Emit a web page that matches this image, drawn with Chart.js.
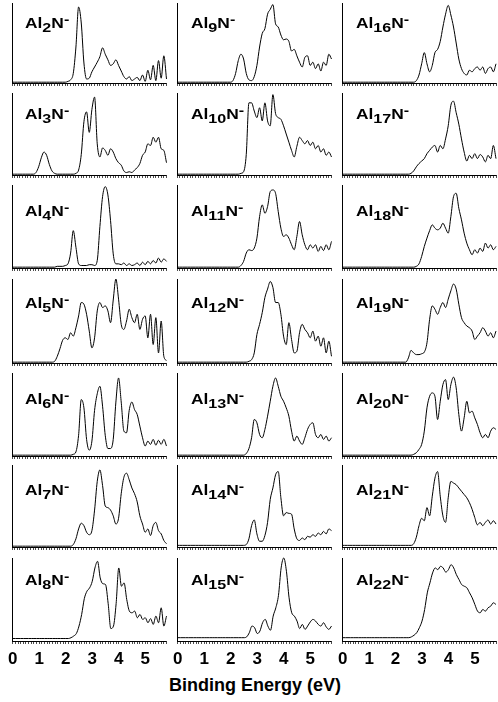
<!DOCTYPE html>
<html><head><meta charset="utf-8">
<script src="https://cdn.jsdelivr.net/npm/chart.js@4.4.1/dist/chart.umd.min.js"></script>
<style>
html,body{margin:0;padding:0;background:#fff}
body{width:498px;height:702px;position:relative;overflow:hidden;font-family:"Liberation Sans",Arial,sans-serif}
.p{position:absolute}
.lab{position:absolute;font-family:"Liberation Sans",Arial,sans-serif;font-weight:bold;font-size:14px;line-height:14px;white-space:nowrap;color:#000;transform-origin:0 100%;transform:scaleX(1.24)}
.lab .s{position:relative;top:4px;font-size:13px}
.lab .m{position:relative;top:-4px;font-size:13px}
#xtitle{position:absolute;left:130px;width:250px;top:676px;text-align:center;font-weight:bold;font-size:18px;line-height:18px;color:#000;font-family:"Liberation Sans",Arial,sans-serif}
</style></head><body>
<div id="xtitle">Binding Energy (eV)</div>
<script>
// Binding energy grid (eV)
const energies = [0,0.1,0.2,0.3,0.4,0.5,0.6,0.7,0.8,0.9,
  1.0,1.1,1.2,1.3,1.4,1.5,1.6,1.7,1.8,1.9,
  2.0,2.1,2.2,2.3,2.4,2.5,2.6,2.7,2.8,2.9,
  3.0,3.1,3.2,3.3,3.4,3.5,3.6,3.7,3.8,3.9,
  4.0,4.1,4.2,4.3,4.4,4.5,4.6,4.7,4.8,4.9,
  5.0,5.1,5.2,5.3,5.4,5.5,5.6,5.7,5.8];
const tickLabels = ['0','1','2','3','4','5'];
const clusterSizes = [2,3,4,5,6,7,8,9,10,11,12,13,14,15,16,17,18,19,20,21,22];

// Photoelectron intensity (relative) per cluster
const al2n = [1,1,1,1,1,1,1,1,1,1, 1,1,1,1,1,1,1,1,1,1,
  1,2,4,12,45,95,75,25,5,6, 14,20,26,33,44,36,29,22,24,29,
  22,15,8,5,8,3,5,7,3,10, 2,16,4,22,3,28,6,34,5];
const al3n = [1,1,1,1,1,1,1,1,1,3, 10,21,28,24,13,5,2,1,1,1,
  1,1,1,1,2,6,25,65,77,52, 80,95,38,22,33,30,24,32,28,20,
  15,12,5,3,4,3,6,9,14,24, 28,38,36,46,40,46,32,30,15];
const al4n = [1,1,1,1,1,1,1,1,1,1, 1,1,1,1,1,1,1,2,2,2,
  3,5,18,45,25,5,3,3,3,4, 4,3,9,50,86,98,88,57,17,5,
  5,4,6,3,5,3,4,6,3,7, 4,8,5,9,6,12,7,11,8];
const al5n = [1,1,1,1,1,1,1,1,1,1, 1,1,1,1,1,1,2,8,17,27,
  30,28,36,32,42,56,72,70,58,38, 18,30,62,72,66,68,62,48,75,100,
  76,46,40,50,64,54,48,58,40,52, 56,30,58,22,54,12,50,8,3];
const al6n = [1,1,1,1,1,1,1,1,1,1, 1,1,1,1,1,1,1,1,1,1,
  1,1,1,2,5,25,68,58,20,7, 18,55,75,84,60,25,9,9,20,65,
  94,65,30,28,55,65,56,50,36,22, 12,18,14,20,13,19,14,20,12];
const al7n = [1,1,1,1,1,1,1,1,1,1, 1,1,1,1,1,1,1,1,1,1,
  1,1,1,3,10,22,29,26,18,15, 20,45,80,94,75,50,48,45,38,28,
  35,65,85,90,82,72,65,55,38,28, 18,22,14,26,30,20,16,8,4];
const al8n = [3,3,3,3,3,3,3,3,3,3, 3,3,3,3,3,3,3,3,3,3,
  3,3,4,6,9,18,32,51,60,64, 72,88,96,76,69,68,45,15,18,45,
  88,66,70,50,36,34,36,28,32,26, 28,22,27,20,30,22,40,18,30];
const al9n = [1,1,1,1,1,1,1,1,1,1, 1,1,1,1,1,1,1,1,1,1,
  1,3,12,28,36,30,12,4,3,8, 22,45,62,68,86,92,98,74,70,60,
  54,55,52,40,42,34,26,20,32,34, 22,26,18,24,15,26,22,36,30];
const al10n = [1,1,1,1,1,1,1,1,1,1, 1,1,1,1,1,1,1,1,1,1,
  1,1,1,1,2,4,25,88,88,78, 70,82,66,88,66,60,98,75,70,68,
  60,50,40,30,22,35,46,42,38,42, 36,40,32,36,28,32,24,28,22];
const al11n = [1,1,1,1,1,1,1,1,1,1, 1,1,1,1,1,1,1,1,1,1,
  1,1,1,1,3,8,18,22,21,24, 36,62,76,66,74,92,94,90,68,48,
  38,40,36,28,22,38,56,40,28,22, 28,24,28,20,26,21,28,22,32];
const al12n = [1,1,1,1,1,1,1,1,1,1, 1,1,1,1,1,1,1,1,1,1,
  1,1,1,1,1,1,1,2,4,12, 34,46,60,78,88,97,90,72,72,58,
  32,22,48,28,12,14,36,46,40,36, 30,38,26,32,20,30,12,26,8];
const al13n = [1,1,1,1,1,1,1,1,1,1, 1,1,1,1,1,1,1,1,1,1,
  1,1,1,1,1,1,3,9,22,44, 40,26,22,32,48,66,84,94,84,72,
  66,58,48,30,18,24,18,14,22,32, 38,40,26,22,26,20,24,18,22];
const al14n = [2,2,2,2,2,2,2,2,2,2, 2,2,2,2,2,2,2,2,2,2,
  2,2,2,2,2,2,3,10,26,33, 16,7,7,14,30,58,72,88,92,60,
  38,42,41,40,22,10,8,11,9,13, 12,15,13,17,15,19,16,22,20];
const al15n = [4,4,4,4,4,4,4,4,4,4, 4,4,4,4,4,4,4,4,4,4,
  4,4,4,4,4,4,5,10,18,16, 9,12,22,26,18,13,30,40,55,88,
  100,84,52,34,30,24,15,20,14,18, 23,26,24,20,18,22,17,14,18];
const al16n = [1,1,1,1,1,1,1,1,1,1, 1,1,1,1,1,1,1,1,1,1,
  1,1,1,1,1,1,1,1,3,10, 24,38,24,14,22,38,42,52,70,86,
  97,85,70,50,30,18,12,10,16,14, 18,20,16,20,12,18,20,14,24];
const al17n = [1,1,1,1,1,1,1,1,1,1, 1,1,1,1,1,1,1,1,1,1,
  1,1,1,1,1,1,2,5,10,14, 17,20,26,30,34,36,28,36,32,44,
  60,85,90,76,62,44,28,17,24,20, 26,20,25,22,16,24,20,36,20];
const al18n = [1,1,1,1,1,1,1,1,1,1, 1,1,1,1,1,1,1,1,1,1,
  1,1,1,1,1,1,1,1,2,5, 14,26,36,45,52,48,46,48,54,48,
  42,62,86,90,72,58,42,30,22,16, 22,18,24,20,30,24,28,22,26];
const al19n = [1,1,1,1,1,1,1,1,1,1, 1,1,1,1,1,1,1,1,1,1,
  1,1,1,1,1,6,15,12,10,10, 11,13,24,52,68,64,58,66,72,66,
  76,86,94,88,70,54,48,44,42,38, 28,32,36,42,38,32,36,30,38];
const al20n = [1,1,1,1,1,1,1,1,1,1, 1,1,1,1,1,1,1,1,1,1,
  1,1,1,1,1,1,1,2,4,8, 14,30,58,72,76,72,44,66,86,92,
  68,86,95,82,50,30,46,66,52,54, 46,38,28,22,26,22,30,34,32];
const al21n = [2,2,2,2,2,2,2,2,2,2, 2,2,2,2,2,2,2,2,2,2,
  2,2,2,2,2,2,2,4,12,26, 35,32,48,38,62,84,92,62,38,30,
  60,80,78,76,72,68,64,60,54,46, 36,27,30,26,30,33,28,32,28];
const al22n = [4,4,4,4,4,4,4,4,4,4, 4,4,4,4,4,4,4,4,4,4,
  4,4,4,4,4,4,5,7,10,16, 24,38,58,70,82,88,86,90,88,83,
  86,92,88,80,74,68,66,64,58,52, 44,36,34,38,36,40,42,46,44];

const spectra = [al2n,al3n,al4n,al5n,al6n,al7n,al8n,al9n,al10n,al11n,al12n,al13n,al14n,al15n,
  al16n,al17n,al18n,al19n,al20n,al21n,al22n];

// layout (pixels)
const colLeft = [11.5, 176.5, 342];
const colWidth = [156.5, 156.5, 156];
const rowTop = [3, 93, 185, 279, 373, 465, 558];
const rowBottom = [83, 175, 268, 363, 456, 547, 641];
const labelX = [25, 191, 356];
const labelBase = [27, 118, 215, 307, 403, 494, 584];

const FONT = '"Liberation Sans", Arial, sans-serif';

spectra.forEach((vals, idx) => {
  const col = Math.floor(idx / 7), row = idx % 7;
  const L = colLeft[col], T = rowTop[row], W = colWidth[col], H = rowBottom[row] - rowTop[row];
  const bottomRow = row === 6;
  const xh = bottomRow ? 32 : 5;
  const padL = 9, padT = 3, padR = 3;
  const div = document.createElement('div');
  div.className = 'p';
  div.style.left = (L - padL) + 'px';
  div.style.top = (T - padT) + 'px';
  div.style.width = (W + padL + padR) + 'px';
  div.style.height = (H + padT + xh) + 'px';
  const cv = document.createElement('canvas');
  div.appendChild(cv);
  document.body.appendChild(div);

  new Chart(cv, {
    type: 'line',
    data: { datasets: [{
      data: energies.map((e, i) => ({ x: e, y: vals[i] })),
      borderColor: '#000', borderWidth: 1, pointRadius: 0,
      cubicInterpolationMode: 'monotone', fill: false, clip: 4
    }] },
    options: {
      responsive: true, maintainAspectRatio: false, animation: false, events: [],
      layout: { padding: { left: padL, top: padT, right: padR, bottom: 0 } },
      plugins: { legend: { display: false }, tooltip: { enabled: false } },
      scales: {
        x: {
          type: 'linear', min: 0, max: 5.8,
          afterFit: s => { s.height = xh; },
          grid: { drawOnChartArea: false, drawTicks: true, tickLength: 3, color: '#000', lineWidth: 0.7 },
          border: { display: true, color: '#000', width: 1 },
          ticks: {
            stepSize: 0.1, autoSkip: false, maxRotation: 0, minRotation: 0, padding: 5,
            color: '#000', font: { family: FONT, weight: 'bold', size: 17 },
            callback: v => {
              if (!bottomRow) return '';
              const r = Math.round(v);
              return Math.abs(v - r) < 1e-6 && r < tickLabels.length ? tickLabels[r] : '';
            }
          }
        },
        y: {
          min: 0, max: 100,
          afterFit: s => { s.width = 0; },
          ticks: { display: false },
          grid: { display: false },
          border: { display: true, color: '#000', width: 1 }
        }
      }
    }
  });

  const lab = document.createElement('div');
  lab.className = 'lab';
  lab.style.left = labelX[col] + 'px';
  lab.style.top = (labelBase[row] - 11) + 'px';
  lab.innerHTML = 'Al<span class="s">' + clusterSizes[idx] + '</span>N<span class="m">-</span>';
  document.body.appendChild(lab);
});
</script>
</body></html>
